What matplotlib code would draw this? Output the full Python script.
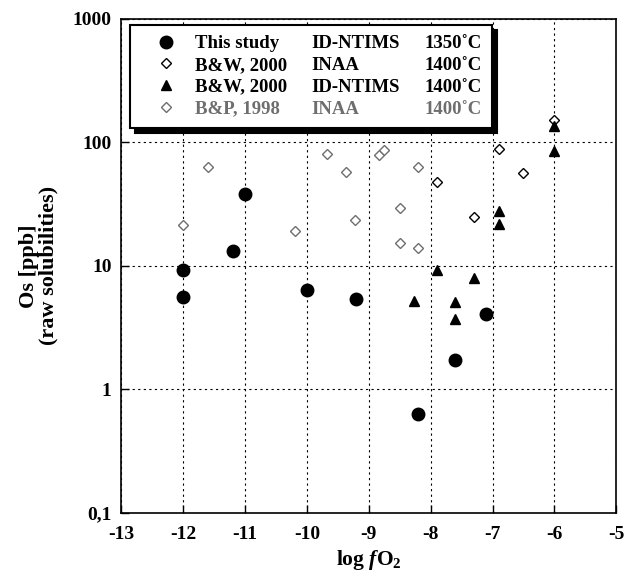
import matplotlib
matplotlib.use("Agg")
import matplotlib.pyplot as plt
from matplotlib.lines import Line2D

plt.rcParams['font.family'] = ['Liberation Serif', 'DejaVu Serif']
plt.rcParams['font.weight'] = 'bold'
plt.rcParams['mathtext.fontset'] = 'custom'
plt.rcParams['mathtext.rm'] = 'Liberation Serif:bold'
plt.rcParams['mathtext.it'] = 'Liberation Serif:bold:italic'
plt.rcParams['mathtext.bf'] = 'Liberation Serif:bold'

# this study, ID-NTIMS, 1350 C
this_x = [-12.0, -12.0, -11.2, -11.0, -10.0, -9.2, -8.2, -7.6, -7.1]
this_y = [9.3, 5.6, 13.2, 38, 6.4, 5.4, 0.63, 1.73, 4.1]

# B&W 2000, INAA, 1400 C
bw_inaa_x = [-7.9, -7.3, -6.9, -6.5, -6.0]
bw_inaa_y = [48, 25, 88, 56, 151]

# B&W 2000, ID-NTIMS, 1400 C
bw_nt_x = [-8.27, -7.9, -7.6, -7.6, -7.3, -6.9, -6.9, -6.0, -6.0]
bw_nt_y = [5.2, 9.3, 5.1, 3.7, 8.0, 28, 22, 135, 85]

# B&P 1998, INAA, 1400 C
bp_x = [-12.0, -11.6, -10.2, -9.67, -9.36, -9.22, -8.84, -8.75, -8.5, -8.5, -8.2, -8.2]
bp_y = [21.5, 63, 19.1, 80, 57, 23.3, 79, 87, 29.6, 15.4, 63, 13.9]

studies = ["This study", "B&W, 2000", "B&W, 2000", "B&P, 1998"]
methods = ["ID-NTIMS", "INAA", "ID-NTIMS", "INAA"]
temps = ["1350˚C", "1400˚C", "1400˚C", "1400˚C"]

x_ticks = [-13, -12, -11, -10, -9, -8, -7, -6, -5]
y_ticks = [0.1, 1, 10, 100, 1000]
y_ticklabels = ["0,1", "1", "10", "100", "1000"]

gray = "#6e6e6e"

fig = plt.figure(figsize=(6.25, 5.85), dpi=100)
ax = fig.add_axes([0.194, 0.123, 0.792, 0.845])

ax.plot(bp_x, bp_y, ls="none", marker="D", ms=4.8, mfc="white", mec=gray, mew=1.0, zorder=3)
ax.plot(bw_inaa_x, bw_inaa_y, ls="none", marker="D", ms=4.8, mfc="white", mec="black", mew=1.0, zorder=4)
ax.plot(bw_nt_x, bw_nt_y, ls="none", marker="^", ms=7.5, color="black", zorder=5)
ax.plot(this_x, this_y, ls="none", marker="o", ms=9, color="black", zorder=6)

ax.set_yscale("log")
ax.set_xlim(-13, -5)
ax.set_ylim(0.1, 1000)
ax.set_xticks(x_ticks)
ax.set_xticklabels([str(v) for v in x_ticks], fontweight="bold")
ax.set_yticks(y_ticks)
ax.set_yticklabels(y_ticklabels, fontweight="bold")
ax.minorticks_off()
ax.tick_params(direction="in", length=6, width=1, labelsize=14)
ax.tick_params(axis="x", pad=9)
ax.tick_params(axis="y", pad=7)
ax.grid(True, which="major", color="black", ls=(0, (2, 3)), lw=0.8)
for s in ax.spines.values():
    s.set_linewidth(1.2)

ax.set_xlabel(r"log $f$O$_2$", fontsize=15.5, fontweight="bold", labelpad=4)
ax.set_ylabel("Os [ppb]\n(raw solubilities)", fontsize=16, fontweight="bold",
              labelpad=10, linespacing=1.0)

# legend: markers + three text columns
blank = Line2D([], [], ls="none")
h_study = [
    Line2D([], [], ls="none", marker="o", ms=9, color="black"),
    Line2D([], [], ls="none", marker="D", ms=4.8, mfc="white", mec="black"),
    Line2D([], [], ls="none", marker="^", ms=7.5, color="black"),
    Line2D([], [], ls="none", marker="D", ms=4.8, mfc="white", mec=gray),
]
handles = h_study + [blank] * 8
labels = studies + methods + temps
leg = ax.legend(handles, labels, ncol=3, loc="upper left", bbox_to_anchor=(0.018, 0.988),
                borderaxespad=0, fontsize=13.5, frameon=True, fancybox=False,
                handlelength=2.7, handletextpad=0.2, columnspacing=-1.6,
                labelspacing=0.25, borderpad=0.55,
                shadow={"color": "black", "alpha": 1.0, "ox": 3.5, "oy": -3.5})
leg.get_frame().set_edgecolor("black")
leg.get_frame().set_linewidth(1.5)
leg.set_zorder(10)
texts = leg.get_texts()
for t in texts:
    t.set_fontweight("bold")
for i in (3, 7, 11):
    texts[i].set_color(gray)

fig.savefig("out.png", dpi=100)
